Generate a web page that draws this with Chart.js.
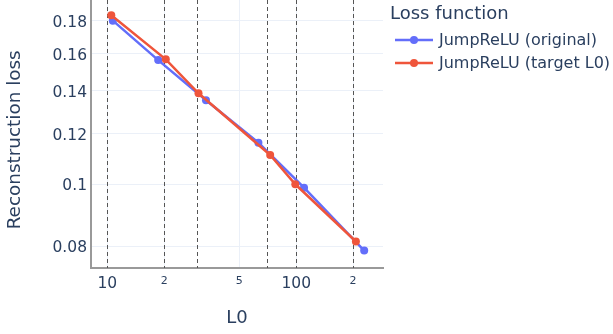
<!DOCTYPE html>
<html>
<head>
<meta charset="utf-8">
<script src="https://cdn.jsdelivr.net/npm/chart.js@4.4.1/dist/chart.umd.min.js"></script>
<style>
  html, body { margin: 0; padding: 0; background: #fff; }
  #wrap { position: relative; width: 613px; height: 334px; font-family: 'DejaVu Sans', sans-serif; color: #2a3f5f; }
  #chart { position: absolute; left: 0; top: 0; }
  .legend-title { position: absolute; left: 390px; top: 4px; font-size: 18px; line-height: 18px; white-space: nowrap; }
  .legend-text { position: absolute; left: 439px; font-size: 16px; line-height: 16px; white-space: nowrap; }
  .legend-icon { position: absolute; left: 395px; }
</style>
</head>
<body>
<div id="wrap">
  <canvas id="chart" width="613" height="334"></canvas>
  <div class="legend-title">Loss function</div>
  <svg class="legend-icon" style="top:35px" width="38" height="10"><line x1="0" y1="5" x2="38" y2="5" stroke="#636efa" stroke-width="2.5"/><circle cx="19" cy="5" r="4" fill="#636efa"/></svg>
  <div class="legend-text" style="top:32px">JumpReLU (original)</div>
  <svg class="legend-icon" style="top:58px" width="38" height="10"><line x1="0" y1="5" x2="38" y2="5" stroke="#ef553b" stroke-width="2.5"/><circle cx="19" cy="5" r="4" fill="#ef553b"/></svg>
  <div class="legend-text" style="top:55px">JumpReLU (target L0)</div>
</div>
<script>
  const FONT = "'DejaVu Sans', sans-serif";
  const TEXT = '#2a3f5f';

  // JumpReLU (original)
  const origL0 = [10.7, 18.6, 33.3, 63.1, 110, 229];
  const origLoss = [0.1801, 0.1563, 0.1353, 0.1161, 0.0988, 0.0788];
  // JumpReLU (target L0)
  const targetL0 = [10.5, 20.4, 30.4, 72.8, 98.9, 207];
  const targetLoss = [0.1836, 0.1567, 0.1387, 0.1111, 0.1, 0.0814];
  // dashed reference lines at the target L0 values
  const targetLines = [10, 20, 30, 70, 100, 200];

  const xTickValues = [10, 20, 50, 100, 200];
  const xTickLabels = ['10', '2', '5', '100', '2'];
  const yTickValues = [0.08, 0.1, 0.12, 0.14, 0.16, 0.18];
  const yTickLabels = ['0.08', '0.1', '0.12', '0.14', '0.16', '0.18'];

  const toPoints = (xs, ys) => xs.map((x, i) => ({ x, y: ys[i] }));

  const targetLinesPlugin = {
    id: 'targetLines',
    beforeDatasetsDraw(chart) {
      const { ctx, chartArea, scales } = chart;
      ctx.save();
      ctx.strokeStyle = '#555';
      ctx.lineWidth = 1;
      ctx.setLineDash([4, 3]);
      targetLines.forEach((v) => {
        const px = Math.round(scales.x.getPixelForValue(v)) + 0.5;
        ctx.beginPath();
        ctx.moveTo(px, chartArea.top);
        ctx.lineTo(px, chartArea.bottom);
        ctx.stroke();
      });
      ctx.restore();
    }
  };

  new Chart(document.getElementById('chart'), {
    type: 'scatter',
    data: {
      datasets: [
        {
          label: 'JumpReLU (original)',
          data: toPoints(origL0, origLoss),
          showLine: true,
          borderColor: '#636efa',
          backgroundColor: '#636efa',
          borderWidth: 2.5,
          pointRadius: 4,
          pointBorderWidth: 0,
          order: 2
        },
        {
          label: 'JumpReLU (target L0)',
          data: toPoints(targetL0, targetLoss),
          showLine: true,
          borderColor: '#ef553b',
          backgroundColor: '#ef553b',
          borderWidth: 2.5,
          pointRadius: 4,
          pointBorderWidth: 0,
          order: 1
        }
      ]
    },
    options: {
      responsive: false,
      animation: false,
      layout: { autoPadding: false, padding: { left: 0, right: 230, top: 0, bottom: 0 } },
      plugins: { legend: { display: false }, tooltip: { enabled: false } },
      scales: {
        x: {
          type: 'logarithmic',
          min: 8.2,
          max: 288,
          afterBuildTicks: (s) => { s.ticks = xTickValues.map((v) => ({ value: v })); },
          afterFit: (s) => { s.height = 66; s.paddingLeft = 0; s.paddingRight = 0; },
          grid: { color: '#ebf0f8', drawTicks: false },
          border: { color: '#999', width: 2 },
          ticks: {
            autoSkip: false,
            maxRotation: 0,
            padding: 7,
            color: TEXT,
            font: (c) => ({ family: FONT, size: xTickLabels[c.index] && xTickLabels[c.index].length === 1 ? 11 : 15.5 }),
            callback: (v, i) => xTickLabels[i]
          },
          title: { display: true, text: 'L0', color: TEXT, font: { family: FONT, size: 18 }, padding: { top: 0, bottom: 5 } }
        },
        y: {
          type: 'logarithmic',
          min: 0.074,
          max: 0.194,
          afterBuildTicks: (s) => { s.ticks = yTickValues.map((v) => ({ value: v })); },
          afterFit: (s) => { s.width = 91; s.paddingTop = 0; s.paddingBottom = 0; },
          grid: { color: '#ebf0f8', drawTicks: false },
          border: { color: '#999', width: 2 },
          ticks: {
            padding: 4,
            labelOffset: 2,
            color: TEXT,
            font: { family: FONT, size: 15.5 },
            callback: (v, i) => yTickLabels[i]
          },
          title: { display: true, text: 'Reconstruction loss\u00a0\u00a0', color: TEXT, font: { family: FONT, size: 18.4 }, padding: { top: 4, bottom: 0 } }
        }
      }
    },
    plugins: [targetLinesPlugin]
  });
</script>
</body>
</html>
